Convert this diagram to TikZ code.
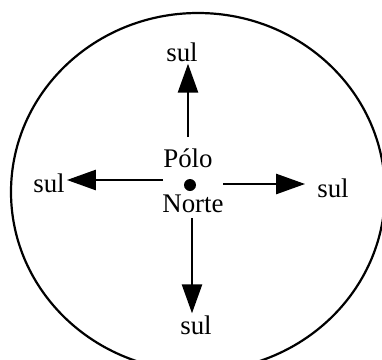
\documentclass[tikz,border=0pt]{standalone}
\usepackage{fontspec}
\setmainfont{Liberation Serif}
\usepackage{tikz}
\usetikzlibrary{arrows.meta, positioning}

\tikzset{
    seta/.style={line width=2.6bp, -{Triangle[length=29bp, width=20bp]}},
    rotulo/.style={font=\fontsize{27}{32}\selectfont, inner sep=2bp}
}

\begin{document}
\begin{tikzpicture}[x=1bp, y=-1bp]
        \useasboundingbox (0,0) rectangle (382,360);
        \clip (0,0) rectangle (382,360);
        \draw[line width=2.2bp] (198,192) ellipse [x radius=187, y radius=179];
        % polo no centro
        \node[fill, circle, inner sep=0pt, minimum size=12bp] (polo) at (190,185) {};
        \node[rotulo] (poloTxt) at (188,158) {Pólo};
        \node[rotulo] (norteTxt) at (193,204) {Norte};
        % rotulos sul
        \node[rotulo] (sulN) at (182,52) {sul};
        \node[rotulo] (sulS) at (196,325) {sul};
        \node[rotulo] (sulW) at (49,183) {sul};
        \node[rotulo] (sulE) at (333,188) {sul};
        \coordinate (iniN) at (188,137);
        \coordinate (iniS) at (192,218);
        \coordinate (iniW) at (163,180);
        \coordinate (iniE) at (223,184);
        \draw[seta] (iniN) -- (iniN |- sulN.south);
        \draw[seta] (iniS) -- (iniS |- sulS.north);
        \draw[seta] (iniW) -- (iniW -| sulW.east);
        \draw[seta, shorten >=10bp] (iniE) -- (iniE -| sulE.west);
    \end{tikzpicture}
\end{document}
